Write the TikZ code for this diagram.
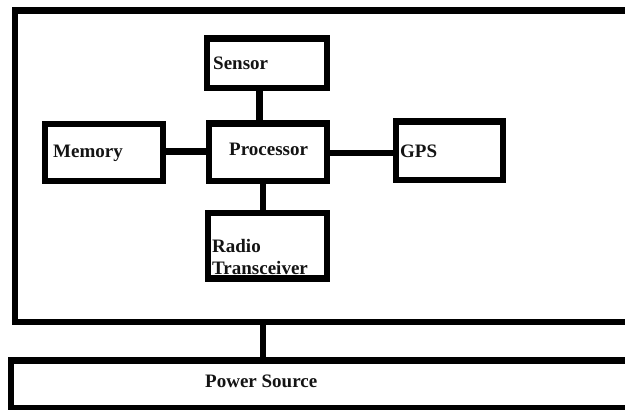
\documentclass[tikz,border=0pt]{standalone}
\usepackage{fontspec}
\setmainfont{Liberation Serif}
\begin{document}
\begin{tikzpicture}[x=1pt,y=-1pt,
  blk/.style={draw=black, line width=6.5pt, rectangle, inner sep=0pt, outer sep=0pt},
  lbl/.style={inner sep=0pt, anchor=base west, text=black!92, font=\fontsize{19}{23}\selectfont\bfseries},
  wire/.style={draw=black, line width=6.5pt}]
  \fill[white] (0,0) rectangle (625,410);
  \useasboundingbox (0,0) rectangle (625,410);
  \clip (0,0) rectangle (625,410);

  % enclosing node and power supply (both run past the right edge)
  \node[blk, minimum width=635pt, minimum height=311.5pt] (node) at (332.5,166.25) {};
  \node[blk, minimum width=639pt, minimum height=47.5pt] (power) at (330.5,384.25) {};

  % functional blocks
  \node[blk, minimum width=120pt, minimum height=49.5pt] (sensor) at (267,63.25) {};
  \node[blk, minimum width=118pt, minimum height=57.5pt] (proc) at (268,152.25) {};
  \node[blk, minimum width=118pt, minimum height=57pt] (mem) at (104,152.5) {};
  \node[blk, minimum width=107pt, minimum height=58.5pt] (gps) at (449.5,150.75) {};
  \node[blk, minimum width=119pt, minimum height=65.5pt] (radio) at (267.5,245.75) {};

  % labels
  \node[lbl] (tsensor) at (213,69) {Sensor};
  \node[lbl] (tproc) at (229,155) {Processor};
  \node[lbl] (tmem) at (53,157) {Memory};
  \node[lbl] (tgps) at (400,157) {GPS};
  \node[lbl] (tradio) at (212,252) {Radio};
  \node[lbl] (ttrans) at (212,274) {Transceiver};
  \node[lbl] (tpower) at (205,387) {Power Source};

  % connector lanes
  \coordinate (up) at (259.5,0);
  \coordinate (down) at (263,0);
  \coordinate (left) at (0,151.5);
  \coordinate (right) at (0,153);

  \draw[wire] (sensor.south -| up) -- (proc.north -| up);
  \draw[wire] (mem.east |- left) -- (proc.west |- left);
  \draw[wire] (proc.east |- right) -- (gps.west |- right);
  \draw[wire] (proc.south -| down) -- (radio.north -| down);
  \draw[wire] (node.south -| down) -- (power.north -| down);
\end{tikzpicture}
\end{document}
